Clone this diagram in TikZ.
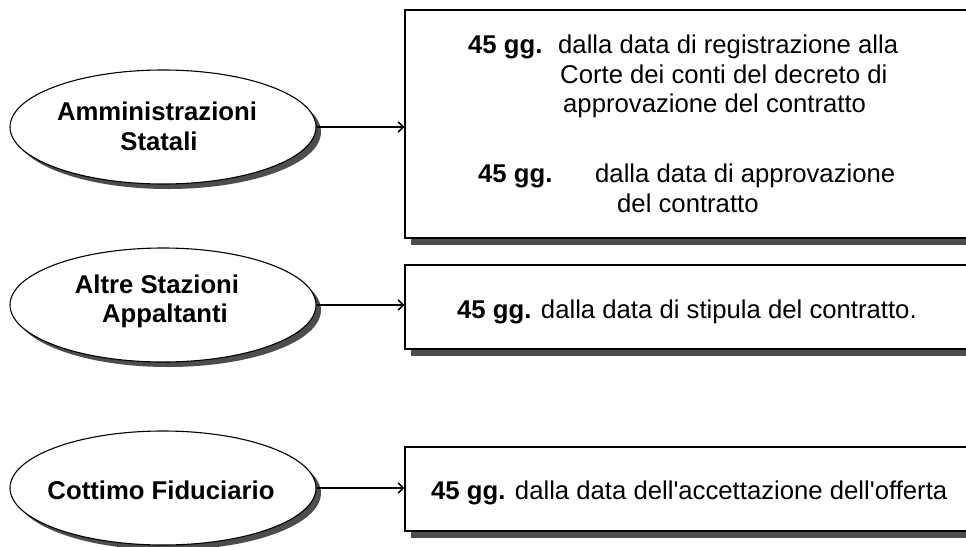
\documentclass[tikz,border=0pt]{standalone}
\usepackage{fontspec}
\setmainfont{Liberation Sans}
\usetikzlibrary{arrows.meta,shapes.geometric,shadows}
\definecolor{shadowgray}{HTML}{4D4D4D}
\tikzset{
  oval/.style={ellipse, draw=black, line width=1.1pt, fill=white,
    minimum width=306pt, minimum height=114pt, inner sep=0pt,
    drop shadow={shadow xshift=5pt, shadow yshift=-5pt, fill=shadowgray, opacity=1}},
  ovaltxt/.style={anchor=base, inner sep=0pt, font=\fontsize{25.7}{29.5}\selectfont\bfseries},
  panel/.style={rectangle, draw=black, line width=1.3pt, fill=white,
    minimum width=575pt, inner sep=0pt,
    drop shadow={shadow xshift=6pt, shadow yshift=-7pt, fill=shadowgray, opacity=1}},
  txt/.style={anchor=base west, inner sep=0pt, font=\fontsize{25.7}{29.5}\selectfont},
  conn/.style={line width=1.1pt, -{Straight Barb[length=5pt,width=10pt,line width=1.6pt]}}
}
\begin{document}
\begin{tikzpicture}[x=1pt,y=-1pt]
\clip (0,0) rectangle (966,546);
\fill[white] (0,0) rectangle (966,546);
% ovals
\node[oval] (e1) at (163,127) {};
\node[oval] (e2) at (163,305) {};
\node[oval] (e3) at (163,488) {};
\node[ovaltxt] (e1a) at (157,120) {Amministrazioni};
\node[ovaltxt] (e1b) at (159,150) {Statali};
\node[ovaltxt] (e2a) at (157,293) {Altre Stazioni};
\node[ovaltxt] (e2b) at (165,322) {Appaltanti};
\node[ovaltxt] (e3a) at (161,499) {Cottimo Fiduciario};
% panels
\node[panel, minimum height=228pt] (b1) at (692.5,124) {};
\node[panel, minimum height=84pt] (b2) at (692.5,307) {};
\node[panel, minimum height=84pt] (b3) at (692.5,489) {};
% texts
\node[txt] (t1a) at (468,53) {\textbf{45 gg.}};
\node[txt] (t1b) at (558,53) {dalla data di registrazione alla};
\node[txt] (t1c) at (560,83) {Corte dei conti del decreto di};
\node[txt] (t1d) at (563,112) {approvazione del contratto};
\node[txt] (t1e) at (478,182) {\textbf{45 gg.}};
\node[txt] (t1f) at (595,182) {dalla data di approvazione};
\node[txt] (t1g) at (617,212) {del contratto};
\node[txt] (t2) at (457,318) {\textbf{45 gg.} dalla data di stipula del contratto.};
\node[txt] (t3) at (431,499) {\textbf{45 gg.} dalla data dell\textquotesingle accettazione dell\textquotesingle offerta};
% connectors
\draw[conn] (e1.east) -- (e1.east -| b1.west);
\draw[conn] (e2.east) -- (e2.east -| b2.west);
\draw[conn] (e3.east) -- (e3.east -| b3.west);
\end{tikzpicture}
\end{document}
